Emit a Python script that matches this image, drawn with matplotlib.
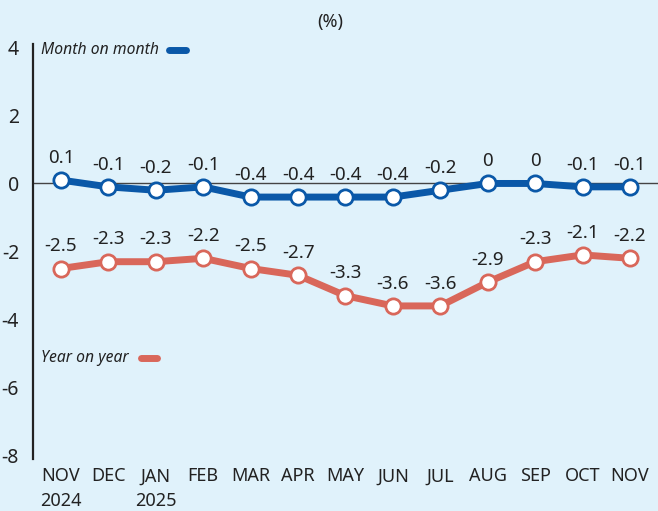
import matplotlib
matplotlib.use("Agg")
import matplotlib.pyplot as plt

months = ["NOV\n2024", "DEC", "JAN\n2025", "FEB", "MAR", "APR", "MAY", "JUN",
          "JUL", "AUG", "SEP", "OCT", "NOV"]
mom = [0.1, -0.1, -0.2, -0.1, -0.4, -0.4, -0.4, -0.4, -0.2, 0, 0, -0.1, -0.1]
yoy = [-2.5, -2.3, -2.3, -2.2, -2.5, -2.7, -3.3, -3.6, -3.6, -2.9, -2.3, -2.1, -2.2]
yticks = [4, 2, 0, -2, -4, -6, -8]

BG = "#e0f2fb"
BLUE = "#0a58a8"
RED = "#d9675a"
INK = "#222222"

plt.rcParams["font.family"] = ["Noto Sans", "DejaVu Sans"]

fig = plt.figure(figsize=(6.58, 5.11), dpi=100, facecolor=BG)
ax = fig.add_axes((33 / 658, 1 - 459 / 511, 625 / 658, 415 / 511))
ax.set_facecolor(BG)

x = list(range(len(months)))
for vals, col in ((mom, BLUE), (yoy, RED)):
    ax.plot(x, vals, color=col, lw=5, solid_capstyle="round", zorder=3,
            marker="o", ms=11, mfc="white", mec=col, mew=2)
    for xi, v in zip(x, vals):
        txt = "0" if v == 0 else f"{v:.1f}"
        ax.annotate(txt, (xi, v), xytext=(0, 16), textcoords="offset points",
                    ha="center", va="center", fontsize=13.5, color=INK)

ax.axhline(0, color="#444444", lw=1, zorder=1)

ax.set_xlim(-0.59, 12.59)
ax.set_ylim(-8.1, 4.1)
ax.set_yticks(yticks)
ax.set_yticklabels([str(t) for t in yticks], fontsize=14, color=INK)
ax.set_xticks(x)
ax.set_xticklabels(months, fontsize=13, color=INK, linespacing=1.45, va="top")
ax.tick_params(length=0, pad=10)
ax.tick_params(axis="x", pad=6)

for s in ("top", "right", "bottom"):
    ax.spines[s].set_visible(False)
ax.spines["left"].set_color(INK)
ax.spines["left"].set_linewidth(1.6)

# legend labels placed inside the plot
ax.text(0.013, 0.985, "Month on month", transform=ax.transAxes, style="italic",
        fontsize=11.3, color=INK, ha="left", va="center")
ax.plot([0.218, 0.245], [0.985, 0.985], transform=ax.transAxes, color=BLUE,
        lw=5, solid_capstyle="round")
ax.text(0.013, 0.243, "Year on year", transform=ax.transAxes, style="italic",
        fontsize=11.3, color=INK, ha="left", va="center")
ax.plot([0.172, 0.198], [0.243, 0.243], transform=ax.transAxes, color=RED,
        lw=5, solid_capstyle="round")

fig.text(330 / 658, 1 - 22 / 511, "(%)", ha="center", va="center",
         fontsize=13, color=INK)

fig.savefig("out.png", dpi=100, facecolor=BG)
